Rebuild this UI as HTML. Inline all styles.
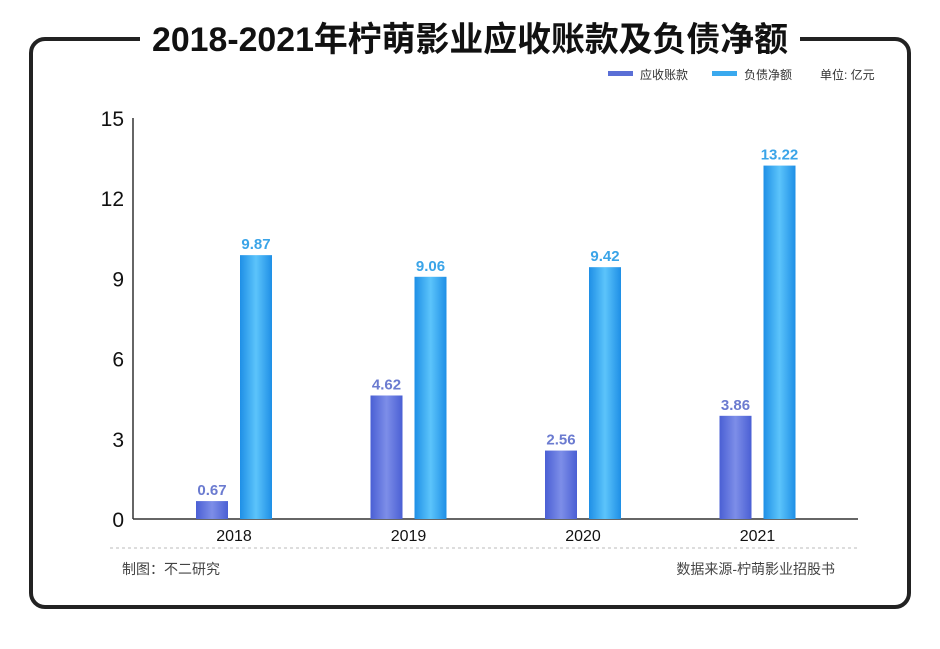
<!DOCTYPE html>
<html><head><meta charset="utf-8">
<style>
body{margin:0;background:#fff;width:940px;height:644px;overflow:hidden;font-family:"Liberation Sans","Noto Sans CJK SC",sans-serif}
</style></head>
<body>
<svg width="940" height="644" xmlns="http://www.w3.org/2000/svg">
<defs>
<linearGradient id="gp" x1="0" x2="1"><stop offset="0" stop-color="#4a5fd4"/><stop offset="0.5" stop-color="#7d8ee8"/><stop offset="1" stop-color="#4a5fd4"/></linearGradient>
<linearGradient id="gb" x1="0" x2="1"><stop offset="0" stop-color="#1e8fe6"/><stop offset="0.5" stop-color="#5cc4fb"/><stop offset="1" stop-color="#1e8fe6"/></linearGradient>
</defs>
<rect x="31" y="39" width="878" height="568" rx="14" fill="none" stroke="#222" stroke-width="4"/>
<rect x="140" y="20" width="660" height="40" fill="#fff"/>
<text x="470" y="51" text-anchor="middle" font-size="34" font-weight="bold" fill="#111" textLength="636" lengthAdjust="spacingAndGlyphs">2018-2021年柠萌影业应收账款及负债净额</text>
<g font-size="12" fill="#333">
<rect x="608" y="71" width="25" height="5" fill="#5a6fd6"/>
<text x="640" y="79">应收账款</text>
<rect x="712" y="71" width="25" height="5" fill="#3aa9ee"/>
<text x="744" y="79">负债净额</text>
<text x="820" y="79">单位: 亿元</text>
</g>
<g id="axes"></g>
<g id="bars"></g>
<line x1="110" y1="548" x2="858" y2="548" stroke="#bbb" stroke-dasharray="3,3"/>
<text x="122" y="574" font-size="14" fill="#444">制图：不二研究</text>
<text x="835" y="574" text-anchor="end" font-size="14" fill="#444">数据来源-柠萌影业招股书</text>
</svg>
<script>
const categories=["2018","2019","2020","2021"];
const receivables=[0.67,4.62,2.56,3.86];
const liabilities=[9.87,9.06,9.42,13.22];
const yTicks=[0,3,6,9,12,15];
const NS="http://www.w3.org/2000/svg";
const y0=519,yTop=118,yMax=15,x0=133,x1=858;
const y=v=>y0-(y0-yTop)*v/yMax;
const cx=i=>234+i*174.5;
function mk(tag,attrs,parent){const e=document.createElementNS(NS,tag);for(const k in attrs)e.setAttribute(k,attrs[k]);parent.appendChild(e);return e;}
const ax=document.getElementById('axes'),bg=document.getElementById('bars');
const yl=mk('line',{x1:x0,y1:yTop,x2:x0,y2:y0,stroke:'#333','stroke-width':1.5},ax);


const xl=mk('line',{x1:x0,y1:y0,x2:x1,y2:y0,stroke:'#333','stroke-width':1.5},ax);


yTicks.forEach(t=>{const e=mk('text',{x:124,y:y(t)+8,'text-anchor':'end','font-size':21,fill:'#111'},ax);e.textContent=t;

});
categories.forEach((c,i)=>{
const e=mk('text',{x:cx(i),y:541,'text-anchor':'middle','font-size':16,fill:'#111'},ax);e.textContent=c;


const r=receivables[i],l=liabilities[i];
const b1=mk('rect',{x:cx(i)-38,y:y(r),width:32,height:y0-y(r),fill:'url(#gp)'},bg);


const t1=mk('text',{x:cx(i)-22,y:y(r)-6,'text-anchor':'middle','font-size':15,'font-weight':'bold',fill:'#6b7bd0'},bg);t1.textContent=r.toFixed(2);


const b2=mk('rect',{x:cx(i)+6,y:y(l),width:32,height:y0-y(l),fill:'url(#gb)'},bg);


const t2=mk('text',{x:cx(i)+22,y:y(l)-6,'text-anchor':'middle','font-size':15,'font-weight':'bold',fill:'#3aa4e8'},bg);t2.textContent=l.toFixed(2);


});
</script>
</body></html>
